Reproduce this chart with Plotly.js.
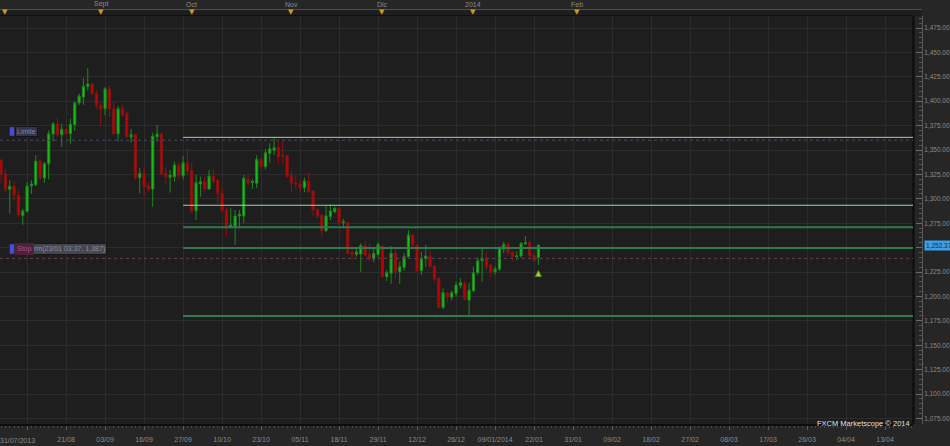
<!DOCTYPE html>
<html>
<head>
<meta charset="utf-8">
<script src="https://cdn.plot.ly/plotly-3.0.1.min.js"></script>
<style>
html,body{margin:0;padding:0;background:#262626;}
#chart{width:950px;height:446px;}
</style>
</head>
<body>
<div id="chart"></div>
<script>
// ---------------- DATA ----------------
const firstDay = '2013-07-31';
const holidays = ['2013-12-25', '2014-01-01'];

const openP = [1339.4,1325.4,1309.7,1312.8,1303.6,1283.1,1287.2,1313.1,1314.4,1338.7,
1321.3,1336.0,1366.4,1376.6,1365.7,1371.2,1366.7,1375.9,1398.2,1404.3,
1415.0,1417.6,1407.7,1395.8,1392.3,1412.8,1392.3,1366.7,1392.3,1387.2,
1363.3,1365.7,1321.6,1326.1,1313.4,1310.0,1363.7,1366.4,1326.1,1322.0,
1322.6,1334.6,1323.7,1337.0,1328.8,1287.8,1315.2,1317.5,1310.0,1323.4,
1319.3,1305.6,1288.5,1270.8,1272.1,1282.4,1282.4,1320.0,1316.5,1315.9,
1340.4,1332.9,1346.6,1349.7,1352.4,1344.8,1344.2,1323.6,1316.5,1315.2,
1311.4,1318.2,1308.0,1289.2,1283.4,1267.3,1282.0,1286.8,1290.3,1275.5,
1275.9,1245.2,1243.1,1243.4,1252.0,1243.0,1238.3,1243.1,1251.6,1220.2,
1223.7,1244.2,1225.4,1229.8,1240.7,1262.9,1252.7,1226.3,1239.0,1241.4,
1231.1,1218.6,1188.8,1203.8,1199.1,1203.1,1211.4,1213.4,1196.3,1205.9,
1224.3,1236.6,1239.0,1232.2,1225.4,1228.1,1248.6,1253.4,1245.5,1240.7,
1241.4,1253.8,1255.0,1242.4,1240.0];
const highP = [1341.0,1330.8,1319.0,1317.2,1308.7,1289.9,1317.2,1319.0,1344.6,1341.0,
1337.7,1370.2,1378.7,1383.8,1377.0,1372.5,1382.0,1399.9,1407.7,1423.8,
1434.0,1418.5,1411.2,1399.2,1414.5,1416.3,1399.9,1395.1,1396.5,1389.6,
1371.8,1366.5,1331.6,1332.9,1317.5,1367.7,1375.6,1367.5,1332.9,1329.5,
1338.0,1337.0,1343.9,1351.7,1338.0,1324.4,1322.6,1322.6,1329.5,1330.2,
1320.0,1312.4,1291.9,1290.3,1288.5,1288.5,1324.4,1324.4,1320.0,1344.8,
1343.0,1350.7,1356.9,1362.6,1360.0,1360.0,1345.0,1328.2,1324.0,1319.9,
1321.6,1327.2,1309.0,1290.0,1284.0,1293.7,1294.4,1292.0,1291.0,1279.3,
1276.5,1251.0,1250.0,1254.4,1256.8,1254.4,1250.2,1255.4,1252.5,1227.0,
1251.6,1249.3,1235.6,1244.2,1268.0,1263.5,1253.5,1245.8,1252.7,1247.5,
1232.0,1219.0,1208.3,1204.5,1206.0,1215.1,1218.6,1216.0,1214.1,1230.5,
1240.0,1249.3,1245.8,1233.0,1231.0,1251.6,1256.0,1256.0,1246.0,1246.0,
1255.5,1261.9,1257.1,1244.0,1253.7];
const lowP = [1316.0,1307.0,1284.7,1298.5,1281.4,1273.5,1286.0,1305.2,1313.0,1319.0,
1316.5,1320.0,1358.9,1363.3,1353.1,1365.0,1356.5,1369.5,1395.8,1396.4,
1411.2,1406.0,1392.3,1374.6,1385.6,1383.8,1365.5,1358.9,1383.8,1362.5,
1357.5,1319.0,1305.7,1302.2,1307.3,1291.9,1358.5,1324.5,1314.1,1306.3,
1317.5,1320.0,1320.0,1324.4,1285.1,1278.3,1302.2,1307.3,1309.0,1315.9,
1295.4,1287.0,1261.2,1269.8,1252.7,1269.8,1274.9,1313.0,1310.0,1310.8,
1331.0,1330.2,1337.0,1344.9,1336.4,1336.4,1322.0,1307.3,1310.0,1306.7,
1306.7,1306.7,1282.7,1280.0,1261.9,1266.3,1278.3,1285.0,1273.2,1269.8,
1242.4,1237.3,1240.7,1224.7,1240.7,1236.3,1235.0,1240.0,1219.6,1216.1,
1212.7,1218.6,1212.7,1226.3,1240.0,1250.0,1225.0,1221.9,1230.5,1228.8,
1215.0,1188.0,1186.8,1193.6,1196.0,1200.0,1208.3,1196.0,1179.2,1204.0,
1222.0,1215.1,1227.1,1219.6,1222.0,1226.0,1244.2,1242.0,1235.6,1237.0,
1239.5,1253.5,1237.3,1235.6,1232.2];
const closeP = [1325.7,1309.7,1312.8,1303.6,1283.7,1287.5,1313.1,1315.2,1338.7,1321.3,
1336.0,1366.7,1376.6,1365.7,1371.2,1366.7,1376.3,1398.2,1405.3,1415.3,
1417.6,1407.7,1395.8,1392.3,1412.8,1392.3,1366.7,1392.3,1386.2,1363.3,
1365.7,1321.3,1326.1,1312.4,1310.0,1364.3,1366.4,1325.4,1322.6,1324.4,
1334.6,1323.7,1337.0,1328.5,1287.8,1316.5,1317.5,1310.0,1323.4,1317.5,
1305.6,1287.8,1272.1,1273.2,1282.4,1284.1,1321.0,1315.9,1318.0,1340.4,
1332.9,1347.2,1351.3,1352.4,1343.1,1343.5,1322.6,1315.9,1314.9,1311.4,
1318.2,1307.3,1288.5,1282.4,1267.3,1282.4,1287.5,1290.3,1275.5,1276.5,
1244.2,1243.1,1245.8,1252.0,1242.4,1238.3,1244.2,1253.4,1220.2,1224.3,
1244.2,1225.4,1230.5,1240.7,1262.9,1252.7,1226.3,1239.0,1241.4,1230.5,
1217.5,1188.8,1203.8,1199.1,1203.8,1211.7,1214.1,1197.0,1206.6,1224.3,
1236.6,1239.0,1230.5,1225.4,1228.1,1249.3,1253.4,1244.9,1240.7,1241.5,
1254.4,1255.0,1241.4,1236.6,1252.37];

// horizontal level lines (from 27/09)
const levelStart = '2013-09-27';
const levelValues = [1363.0, 1293.4, 1271.0, 1249.7, 1180.0];
const levelKinds  = ['light', 'light', 'dark', 'dark', 'dark'];

const limiteLevel = 1360;
const stopLevel = 1239;
const currentPrice = 1252.37;
const signalDate = '2014-01-23';
const signalValue = 1226.5;

// y-axis ticks (1,250.00 sits under the current-price tag)
const yTickValues = [1075,1100,1125,1150,1175,1200,1225,1250,1275,1300,1325,1350,1375,1400,1425,1450,1475];
const yTickHidden = [1250];

// x-axis tick labels
const tickDates = ['2013-08-08','2013-08-21','2013-09-03','2013-09-16','2013-09-27','2013-10-10',
  '2013-10-23','2013-11-05','2013-11-18','2013-11-29','2013-12-12','2013-12-26','2014-01-09',
  '2014-01-22','2014-01-31','2014-02-09','2014-02-18','2014-02-27','2014-03-08','2014-03-17',
  '2014-03-26','2014-04-04','2014-04-13'];
const tickLabels = ['','21/08','03/09','16/09','27/09','10/10','23/10','05/11','18/11','29/11',
  '12/12','26/12','09/01/2014','22/01','31/01','09/02','18/02','27/02','08/03','17/03',
  '26/03','04/04','13/04'];
const firstLabel = '31/07/2013';

// month markers on top strip
const monthDates = ['2013-08-01','2013-09-02','2013-10-01','2013-11-01','2013-12-02','2014-01-02','2014-02-01'];
const monthLabels = ['','Sept','Oct','Nov','Dic','2014','Feb'];

// ---------------- helpers ----------------
function toUTC(s){ return new Date(s + 'T00:00:00Z'); }
function fmt(d){ return d.toISOString().slice(0,10); }
const tradingDays = [];
(function(){
  let d = toUTC(firstDay);
  while (tradingDays.length < openP.length) {
    const wd = d.getUTCDay();
    const s = fmt(d);
    if (wd !== 0 && wd !== 6 && holidays.indexOf(s) < 0) tradingDays.push(s);
    d = new Date(d.getTime() + 86400000);
  }
})();
const lastIdx = tradingDays.length - 1;
function slotOf(s){
  const i = tradingDays.indexOf(s);
  if (i >= 0) return i;
  const days = Math.round((toUTC(s) - toUTC(tradingDays[lastIdx])) / 86400000);
  return lastIdx + days;
}
const xs = tradingDays.map(slotOf);
const fmtPrice = v => v.toLocaleString('en-US', {minimumFractionDigits:2, maximumFractionDigits:2});

// ---------------- layout geometry ----------------
const H = 424;            // plot-area pixel height (paper)
const W = 922;            // plot-area pixel width (paper)
const px2py = p => (H - p) / H;
const px2px = p => p / W;

const shapes = [];
shapes.push({type:'rect', xref:'paper', yref:'paper', x0:0, x1:1, y0:px2py(16), y1:px2py(10),
  fillcolor:'#1e1e1e', line:{width:0}, layer:'below'});
shapes.push({type:'line', xref:'paper', yref:'paper', x0:0, x1:1, y0:px2py(9.5), y1:px2py(9.5),
  line:{color:'#4e4e4e', width:1}});
shapes.push({type:'line', xref:'paper', yref:'paper', x0:0, x1:px2px(913), y0:px2py(15.5), y1:px2py(15.5),
  line:{color:'#101010', width:1}});
shapes.push({type:'line', xref:'paper', yref:'paper', x0:px2px(913.5), x1:px2px(913.5), y0:0, y1:px2py(16),
  line:{color:'#0c0c0c', width:2}});
levelValues.forEach((v,k) => {
  const light = levelKinds[k] === 'light';
  shapes.push({type:'line', xref:'x', yref:'y', x0:slotOf(levelStart), x1:400, y0:v, y1:v,
    line:{color: light ? '#9fd2b8' : '#2f7a50', width: light ? 1 : 2}});
});
shapes.push({type:'line', xref:'paper', yref:'y', x0:px2px(0), x1:px2px(913), y0:limiteLevel, y1:limiteLevel,
  line:{color:'#4a4660', width:1, dash:'dot'}});
shapes.push({type:'line', xref:'paper', yref:'y', x0:px2px(0), x1:px2px(913), y0:stopLevel, y1:stopLevel,
  line:{color:'#5c4450', width:1, dash:'dot'}});
shapes.push({type:'rect', xref:'paper', yref:'paper', x0:px2px(9.5), x1:px2px(14.5), y0:px2py(136), y1:px2py(127),
  fillcolor:'#4b4bd6', line:{color:'#222', width:0.5}});
shapes.push({type:'rect', xref:'paper', yref:'paper', x0:px2px(9.5), x1:px2px(14.5), y0:px2py(254), y1:px2py(244),
  fillcolor:'#4b4bd6', line:{color:'#222', width:0.5}});

const annotations = [];
const axisFont = {family:'Liberation Sans, Arial, sans-serif', size:7, color:'#8a8a8a'};
annotations.push({xref:'paper', yref:'paper', x:px2px(17), y:px2py(440), text:firstLabel,
  showarrow:false, xanchor:'center', yanchor:'middle', font:axisFont});
monthDates.forEach((d,k) => {
  annotations.push({xref:'x', yref:'paper', x:slotOf(d), y:px2py(12.3), text:'▼', showarrow:false,
    xanchor:'center', yanchor:'middle', font:{family:'DejaVu Sans', size:7, color:'#d39a1c'}});
  if (monthLabels[k]) annotations.push({xref:'x', yref:'paper', x:slotOf(d), y:px2py(4.5), text:monthLabels[k],
    showarrow:false, xanchor:'center', yanchor:'middle', font:axisFont});
});
annotations.push({xref:'paper', yref:'paper', x:px2px(15), y:px2py(131.5), text:'Limite', showarrow:false,
  xanchor:'left', yanchor:'middle', bgcolor:'#34344a', bordercolor:'#141418', borderwidth:1, borderpad:1,
  font:{family:'Liberation Sans, Arial', size:7, color:'#8484a6'}});
annotations.push({xref:'paper', yref:'paper', x:px2px(32), y:px2py(249), text:'rm(23/01 03:37, 1,387)', showarrow:false,
  xanchor:'left', yanchor:'middle', bgcolor:'#46464e', bordercolor:'#161616', borderwidth:1, borderpad:1,
  font:{family:'Liberation Sans, Arial', size:7, color:'#8e8e9c'}});
annotations.push({xref:'paper', yref:'paper', x:px2px(15), y:px2py(249), text:'Stop', showarrow:false,
  xanchor:'left', yanchor:'middle', bgcolor:'#4c2139', borderwidth:0, borderpad:2,
  font:{family:'Liberation Sans, Arial', size:7, color:'#b0508a'}});
annotations.push({xref:'paper', yref:'y', x:1.002, y:currentPrice, text:fmtPrice(currentPrice),
  showarrow:false, xanchor:'left', yanchor:'middle', bgcolor:'#3e9fe2', borderpad:1,
  font:{family:'Liberation Sans, Arial', size:6.5, color:'#0e2c4c'}});
annotations.push({xref:'paper', yref:'paper', x:px2px(912), y:px2py(423), text:'FXCM Marketscope © 2014', showarrow:false,
  xanchor:'right', yanchor:'middle', font:{family:'Liberation Sans, Arial', size:7.5, color:'#e4e4e4'}});

const traces = [
  {type:'candlestick', x:xs, open:openP, high:highP, low:lowP, close:closeP,
   increasing:{line:{color:'#1c8a1c', width:1}, fillcolor:'#16c816'},
   decreasing:{line:{color:'#8c1212', width:1}, fillcolor:'#c20202'},
   whiskerwidth:0, hoverinfo:'skip', showlegend:false},
  {type:'scatter', mode:'markers', x:[slotOf(signalDate)], y:[signalValue],
   marker:{symbol:'arrow-up', size:6, color:'#a2d82a', line:{color:'#5e8e14', width:1}},
   hoverinfo:'skip', showlegend:false, cliponaxis:false}
];

const layout = {
  width:950, height:446,
  margin:{l:0, r:28, t:0, b:22, pad:0},
  paper_bgcolor:'#262626', plot_bgcolor:'#1e1e1e',
  showlegend:false,
  font:{family:'Liberation Sans, Arial, sans-serif', size:7, color:'#8a8a8a'},
  xaxis:{
    domain:[0, 913/922], range:[-0.25, 210.45], fixedrange:true,
    tickmode:'array', tickvals:tickDates.map(slotOf), ticktext:tickLabels,
    showgrid:true, gridcolor:'#2c2c2c', gridwidth:1, zeroline:false,
    ticks:'outside', ticklen:4, tickcolor:'#5a5a5a', tickwidth:1,
    ticklabelstandoff:4,
    tickfont:axisFont,
    showline:true, linecolor:'#0c0c0c', linewidth:2,
    rangeslider:{visible:false},
    minor:{tickmode:'linear', tick0:0, dtick:1, ticks:'outside', ticklen:2, tickcolor:'#4a4a4a', showgrid:false}
  },
  yaxis:{
    domain:[0, (H-16)/H], range:[1069.3, 1487.3], fixedrange:true,
    side:'right', anchor:'free', position:1,
    tickmode:'array', tickvals:yTickValues,
    ticktext:yTickValues.map(v => yTickHidden.indexOf(v) >= 0 ? '' : fmtPrice(v)),
    ticks:'inside', ticklen:6, tickcolor:'#6a6a6a',
    showline:true, linecolor:'#5a5a5a', linewidth:1,
    showgrid:true, gridcolor:'#2c2c2c', zeroline:false,
    tickfont:{family:'Liberation Sans, Arial, sans-serif', size:6.5, color:'#8a8a8a'},
    minor:{tickmode:'linear', tick0:1075, dtick:5, ticks:'inside', ticklen:3, tickcolor:'#555', showgrid:false}
  },
  shapes:shapes,
  annotations:annotations
};

Plotly.newPlot('chart', traces, layout, {staticPlot:true, displayModeBar:false});
</script>
</body>
</html>
